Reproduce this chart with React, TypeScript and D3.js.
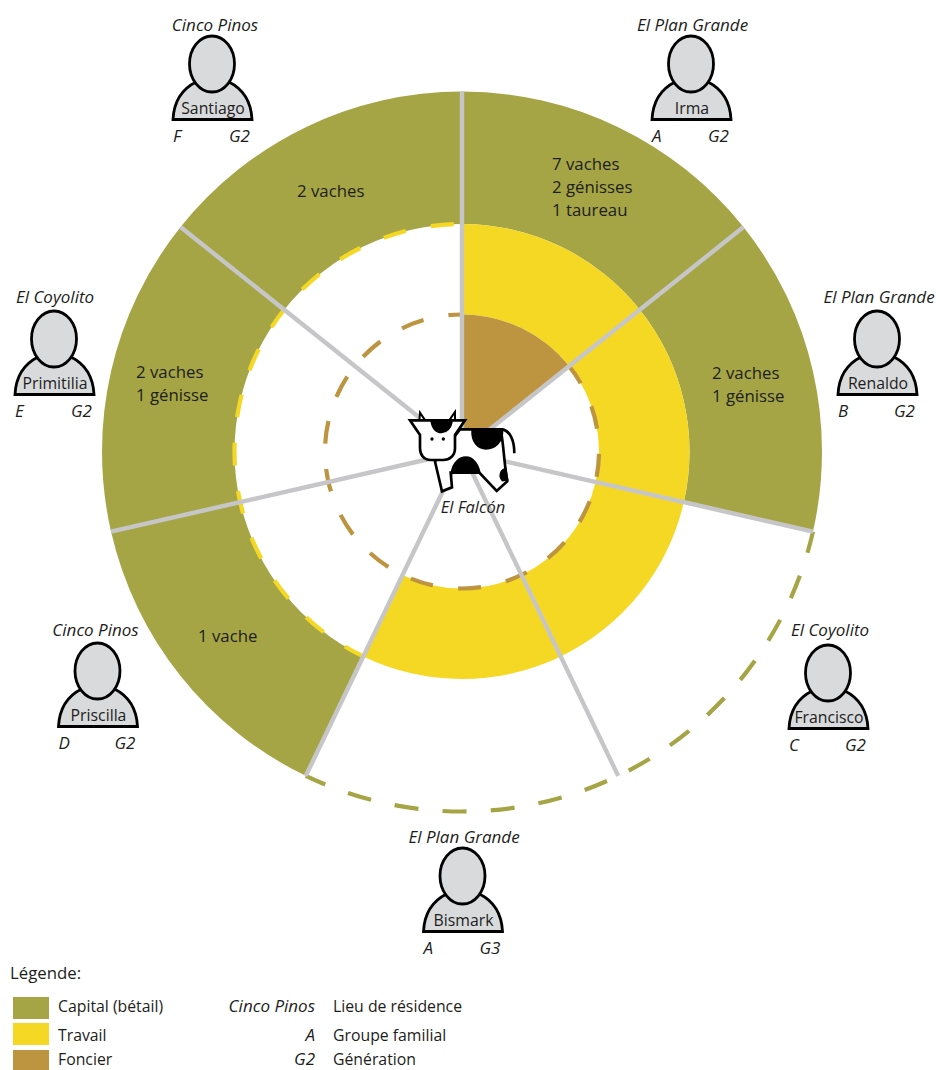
import React, { useEffect, useRef } from 'react'
import * as d3 from 'd3'

// sectors, clockwise from 12 o'clock
const producers = ['Irma', 'Renaldo', 'Francisco', 'Bismark', 'Priscilla', 'Primitilia', 'Santiago']
const places = ['El Plan Grande', 'El Plan Grande', 'El Coyolito', 'El Plan Grande', 'Cinco Pinos', 'El Coyolito', 'Cinco Pinos']
const groups = ['A', 'B', 'C', 'A', 'D', 'E', 'F']
const generations = ['G2', 'G2', 'G2', 'G3', 'G2', 'G2', 'G2']
const herds = [
    ['7 vaches', '2 génisses', '1 taureau'],
    ['2 vaches', '1 génisse'],
    [],
    [],
    ['1 vache'],
    ['2 vaches', '1 génisse'],
    ['2 vaches'],
]
// 1 = the producer brings it, 0 = does not (dashed ring)
const capital = [1, 1, 0, 0, 1, 1, 1]
const travail = [1, 1, 1, 1, 0, 0, 0]
const foncier = [1, 0, 0, 0, 0, 0, 0]

const legendFactors = ['Capital (bétail)', 'Travail', 'Foncier']
const legendKeys = ['Cinco Pinos', 'A', 'G2']
const legendMeanings = ['Lieu de résidence', 'Groupe familial', 'Génération']

const WIDTH = 936
const HEIGHT = 1070
const CX = 462
const CY = 451.5
const FONT = '"Open Sans", "Noto Sans", sans-serif'
const INK = '#1d1d1b'

// head centre of each person icon, then place label shift from it
const personAt = [
    [691, 64, 1.5, -33],
    [877, 339, 2, -36],
    [828, 673, 2, -37],
    [462.5, 876, 1.5, -33],
    [97.5, 671, -2, -35],
    [54, 339, 1, -36],
    [212, 64, 3, -33],
]
// herd text: anchor x, first baseline
const herdAt = [[552, 170], [712, 379], [0, 0], [0, 0], [198, 642], [136, 378], [297, 197]]

const angle = d3.scaleLinear().domain([0, producers.length]).range([0, 2 * Math.PI])
const factorColor = d3.scaleOrdinal<string, string>()
    .domain(['capital', 'travail', 'foncier'])
    .range(['#a5a546', '#f5d824', '#bd9440'])

const rings = [
    { key: 'capital', flags: capital, inner: 227.5, outer: 360, dash: '24 24.2', offset: 2 },
    { key: 'travail', flags: travail, inner: 137, outer: 227.5, dash: '23 25.6', offset: 2 },
    { key: 'foncier', flags: foncier, inner: 0, outer: 137, dash: '23 25.4', offset: 2.2 },
]

function App() {
    const ref = useRef<SVGSVGElement>(null)

    useEffect(() => {
        const vis = d3.select(ref.current)
        vis.selectAll('*').remove()
        const wheel = vis.append('g').attr('transform', `translate(${CX},${CY})`)
        const arc = d3.arc()

        // filled sectors
        rings.forEach(r => {
            wheel.append('g').selectAll('path')
                .data(r.flags.map((f, i) => ({ f, i })).filter(d => d.f))
                .enter().append('path')
                .attr('d', d => arc({
                    innerRadius: r.inner, outerRadius: r.outer,
                    startAngle: angle(d.i), endAngle: angle(d.i + 1),
                }))
                .attr('fill', factorColor(r.key))
        })

        // dashed arcs where a factor is missing, one path per run of empty sectors
        rings.forEach(r => {
            const runs: number[][] = []
            r.flags.forEach((f, i) => {
                if (f) return
                const last = runs[runs.length - 1]
                if (last && last[1] === i) last[1] = i + 1
                else runs.push([i, i + 1])
            })
            runs.forEach(run => {
                const p = d3.path()
                p.arc(0, 0, r.outer, angle(run[0]) - Math.PI / 2, angle(run[1]) - Math.PI / 2)
                wheel.append('path')
                    .attr('d', p.toString())
                    .attr('fill', 'none')
                    .attr('stroke', factorColor(r.key))
                    .attr('stroke-width', 4.2)
                    .attr('stroke-dasharray', r.dash)
                    .attr('stroke-dashoffset', r.offset)
            })
        })

        // spokes
        wheel.append('g').selectAll('line')
            .data(producers)
            .enter().append('line')
            .attr('x1', 0).attr('y1', 0)
            .attr('x2', (d, i) => 360 * Math.sin(angle(i)))
            .attr('y2', (d, i) => -360 * Math.cos(angle(i)))
            .attr('stroke', '#c6c6c8')
            .attr('stroke-width', 4.4)

        // herd text
        herds.forEach((lines, i) => {
            lines.forEach((line, j) => {
                vis.append('text')
                    .attr('x', herdAt[i][0])
                    .attr('y', herdAt[i][1] + j * 23)
                    .attr('font-family', FONT)
                    .attr('font-size', 16.8)
                    .attr('fill', INK)
                    .text(line)
            })
        })

        // people
        producers.forEach((name, i) => {
            const g = vis.append('g').attr('transform', `translate(${personAt[i][0]},${personAt[i][1]})`)
            g.append('path')
                .attr('d', 'M-39,55.5 C-38,36 -28,24 -16,18 L17,18 C29,24 39,36 40,55.5 Z')
                .attr('fill', '#d9dadc')
                .attr('stroke', '#000')
                .attr('stroke-width', 2.8)
            g.append('ellipse')
                .attr('rx', 22.5).attr('ry', 28)
                .attr('fill', '#d9dadc')
                .attr('stroke', '#000')
                .attr('stroke-width', 2.8)
            g.append('text')
                .attr('x', 1).attr('y', 50)
                .attr('text-anchor', 'middle')
                .attr('font-family', FONT).attr('font-size', 15.8).attr('fill', INK)
                .text(name)
            g.append('text')
                .attr('x', personAt[i][2]).attr('y', personAt[i][3])
                .attr('text-anchor', 'middle')
                .attr('font-family', FONT).attr('font-style', 'italic').attr('font-size', 17).attr('fill', INK)
                .text(places[i])
            g.append('text')
                .attr('x', -39).attr('y', 77.5)
                .attr('font-family', FONT).attr('font-style', 'italic').attr('font-size', 17).attr('fill', INK)
                .text(groups[i])
            g.append('text')
                .attr('x', 17).attr('y', 77.5)
                .attr('font-family', FONT).attr('font-style', 'italic').attr('font-size', 17).attr('fill', INK)
                .text(generations[i])
        })

        // cow, traced at 3x
        const cow = vis.append('g')
            .attr('transform', 'translate(380,380) scale(0.3333)')
            .attr('stroke', '#000')
            .attr('stroke-width', 8)
            .attr('stroke-linejoin', 'miter')
        cow.append('path')
            .attr('d', 'M240,148 L362,148 C372,200 372,250 382,304 L350,333 L298,278 L212,278 L216,322 L186,334 L165,245 Z')
            .attr('fill', '#fff')
        cow.append('path')
            .attr('d', 'M278,148 L366,148 C368,185 345,205 318,205 C295,205 275,185 278,148 Z')
            .attr('fill', '#000')
        cow.append('path')
            .attr('d', 'M216,278 C220,248 240,233 258,233 C276,233 292,250 298,278 Z')
            .attr('fill', '#000')
        cow.append('path')
            .attr('d', 'M376,268 C362,272 358,290 368,300 L381,298 Z')
            .attr('fill', '#000')
        cow.append('path')
            .attr('d', 'M366,148 C390,152 403,180 403,220')
            .attr('fill', 'none')
        cow.append('path')
            .attr('d', 'M118,122 L120,98 L136,122 M207,122 L225,96 L225,122')
            .attr('fill', '#fff')
            .attr('stroke-width', 6)
        cow.append('path')
            .attr('d', 'M90,121 L255,121 L225,165 L225,205 C225,228 208,240 190,240 L152,240 C132,240 120,225 120,205 L120,165 Z')
            .attr('fill', '#fff')
        cow.append('path')
            .attr('d', 'M155,121 L215,121 C212,145 198,156 185,156 C170,156 158,145 155,121 Z')
            .attr('fill', '#000')
        cow.selectAll('circle')
            .data([156, 190])
            .enter().append('circle')
            .attr('cx', d => d).attr('cy', 177).attr('r', 5)
            .attr('fill', '#000').attr('stroke', 'none')

        vis.append('text')
            .attr('x', 473).attr('y', 513)
            .attr('text-anchor', 'middle')
            .attr('font-family', FONT).attr('font-style', 'italic').attr('font-size', 16.5).attr('fill', INK)
            .text('El Falcón')

        // legend
        vis.append('text')
            .attr('x', 10).attr('y', 979)
            .attr('font-family', FONT).attr('font-size', 16.8).attr('fill', INK)
            .text('Légende:')
        const rowY = d3.scaleOrdinal<number, number>().domain([0, 1, 2]).range([1012, 1041, 1065])
        const swatchY = d3.scaleOrdinal<number, number>().domain([0, 1, 2]).range([997, 1023, 1050])
        const row = vis.append('g').selectAll('g')
            .data(legendFactors)
            .enter().append('g')
        row.append('rect')
            .attr('x', 13).attr('width', 36)
            .attr('y', (d, i) => swatchY(i)).attr('height', (d, i) => i === 2 ? 20 : 22)
            .attr('fill', (d, i) => factorColor(rings[i].key))
        row.append('text')
            .attr('x', 58).attr('y', (d, i) => rowY(i))
            .attr('font-family', FONT).attr('font-size', 15.8).attr('fill', INK)
            .text(d => d)
        row.append('text')
            .attr('x', 315).attr('y', (d, i) => rowY(i))
            .attr('text-anchor', 'end')
            .attr('font-family', FONT).attr('font-style', 'italic').attr('font-size', 17).attr('fill', INK)
            .text((d, i) => legendKeys[i])
        row.append('text')
            .attr('x', 333).attr('y', (d, i) => rowY(i))
            .attr('font-family', FONT).attr('font-size', 15.8).attr('fill', INK)
            .text((d, i) => legendMeanings[i])
    }, [])

    return <svg ref={ref} width={WIDTH} height={HEIGHT}
                style={{ position: 'absolute', left: 0, top: 0, display: 'block' }} />
}

export default App
